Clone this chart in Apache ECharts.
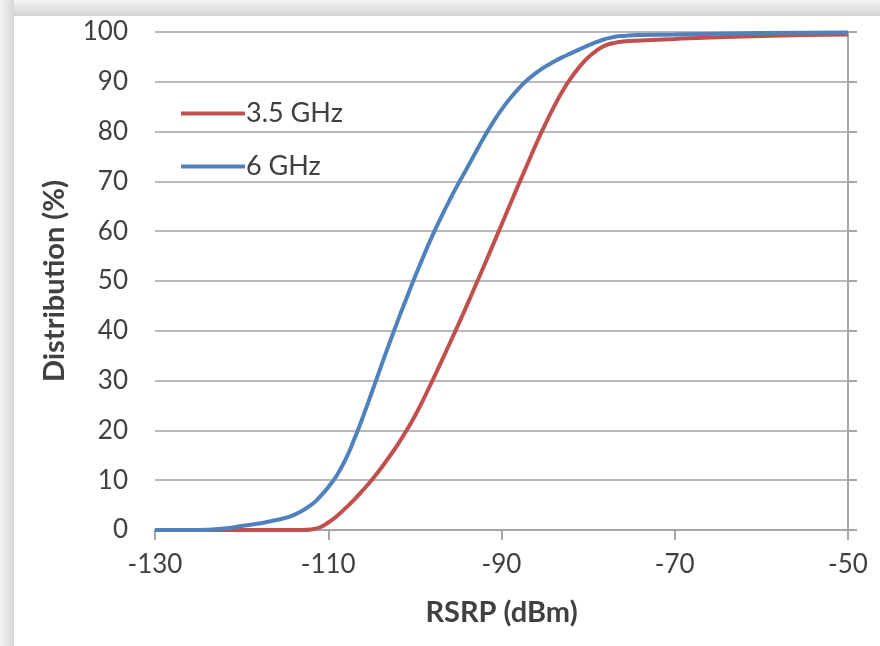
<!DOCTYPE html>
<html>
<head>
<meta charset="utf-8">
<script src="https://cdn.jsdelivr.net/npm/echarts@6/dist/echarts.min.js"></script>
<style>
html,body{margin:0;padding:0;background:#fff;}
#c{width:880px;height:646px;}
</style>
</head>
<body>
<div id="c"></div>
<script>
// Data
var seriesNames = ['3.5 GHz', '6 GHz'];
var xTicks = [-130, -110, -90, -70, -50];
var yTicks = [0, 10, 20, 30, 40, 50, 60, 70, 80, 90, 100];

var rsrp35 = [-130, -124, -118, -114, -113, -112, -111, -110, -109, -108, -107, -106, -105, -104, -103, -102, -101, -100, -99, -98, -97, -96, -95, -94, -93, -92, -91, -90, -89, -88, -87, -86, -85, -84, -83, -82, -81, -80, -79, -78, -77, -76, -74, -70, -66, -60, -55, -50];
var dist35 = [0, 0, 0, 0, 0, 0.1, 0.5, 1.5, 2.8, 4.4, 6.1, 8, 10, 12.2, 14.6, 17.1, 19.9, 22.9, 26.3, 29.9, 33.6, 37.4, 41.2, 45.1, 49.1, 53.1, 57.2, 61.3, 65.4, 69.5, 73.5, 77.5, 81.3, 84.8, 88, 90.7, 93, 94.9, 96.3, 97.3, 97.8, 98.1, 98.3, 98.6, 98.9, 99.2, 99.4, 99.5];

var rsrp6 = [-130, -125, -122, -120, -118, -116, -114, -112, -111, -110, -109, -108, -107, -106, -105, -104, -103, -102, -101, -100, -99, -98, -97, -96, -95, -94, -93, -92, -91, -90, -89, -88, -87, -86, -85, -84, -83, -82, -81, -80, -79, -78, -77, -76, -74, -70, -60, -50];
var dist6 = [0, 0, 0.3, 0.8, 1.3, 2, 3, 5, 6.6, 8.6, 11, 14.2, 18.2, 22.7, 27.5, 32.4, 37.2, 41.9, 46.4, 50.8, 55, 59, 62.7, 66.2, 69.5, 72.6, 75.8, 78.9, 81.8, 84.4, 86.7, 88.7, 90.4, 91.8, 93, 94, 94.9, 95.7, 96.5, 97.3, 98, 98.6, 99, 99.2, 99.4, 99.5, 99.8, 99.9];

function pairs(xs, ys) { return xs.map(function (x, i) { return [x, ys[i]]; }); }

var FONT = 'Lato';
var TXT = '#404040';
var chart = echarts.init(document.getElementById('c'), null, {renderer: 'canvas'});
chart.setOption({
  backgroundColor: '#ffffff',
  animation: false,
  graphic: [
    {type: 'rect', z: -10, shape: {x: 0, y: 0, width: 880, height: 16},
     style: {fill: new echarts.graphic.LinearGradient(0, 0, 0, 1, [{offset: 0, color: '#f3f3f3'}, {offset: 1, color: '#d4d4d4'}])}},
    {type: 'rect', z: -10, shape: {x: 0, y: 0, width: 14, height: 646},
     style: {fill: new echarts.graphic.LinearGradient(0, 0, 1, 0, [{offset: 0, color: '#f6f6f6'}, {offset: 1, color: '#d6d6d6'}])}}
  ],
  grid: {left: 155, right: 32, top: 32, bottom: 116, containLabel: false},
  legend: {
    orient: 'vertical', left: 176, top: 95, itemGap: 26,
    icon: 'rect', itemWidth: 64, itemHeight: 4,
    textStyle: {fontFamily: FONT, fontSize: 27, color: TXT, padding: [0, 0, 0, -4]},
    data: seriesNames
  },
  xAxis: {
    type: 'value', min: xTicks[0], max: xTicks[xTicks.length - 1], interval: 20,
    name: 'RSRP (dBm)', nameLocation: 'middle', nameGap: 68,
    nameTextStyle: {fontFamily: FONT, fontSize: 29, fontWeight: 'bold', color: TXT},
    axisLine: {show: true, lineStyle: {color: '#a6a6a6', width: 2}},
    axisTick: {show: true, inside: false, length: 10, lineStyle: {color: '#a6a6a6', width: 2}},
    axisLabel: {fontFamily: FONT, fontSize: 26, color: TXT, margin: 22},
    splitLine: {show: false}
  },
  yAxis: [
    {
      type: 'value', min: 0, max: 100, interval: 10, position: 'left',
      name: 'Distribution (%)', nameLocation: 'middle', nameGap: 86, nameRotate: 90,
      nameTextStyle: {fontFamily: FONT, fontSize: 29, fontWeight: 'bold', color: TXT},
      axisLine: {show: false}, axisTick: {show: false},
      axisLabel: {fontFamily: FONT, fontSize: 26, color: TXT, margin: 27},
      splitLine: {show: true, lineStyle: {color: '#b8b8b8', width: 2}}
    },
    {
      type: 'value', min: 0, max: 100, interval: 10, position: 'right',
      axisLine: {show: true, lineStyle: {color: '#a6a6a6', width: 2}},
      axisTick: {show: true, inside: false, length: 9, lineStyle: {color: '#a6a6a6', width: 2}},
      axisLabel: {show: false}, splitLine: {show: false}
    }
  ],
  series: [
    {name: seriesNames[0], type: 'line', smooth: 0.5, showSymbol: false, symbol: 'none',
     data: pairs(rsrp35, dist35), color: '#C0504D', lineStyle: {color: '#C0504D', width: 4}, z: 3},
    {name: seriesNames[1], type: 'line', smooth: 0.5, showSymbol: false, symbol: 'none',
     data: pairs(rsrp6, dist6), color: '#4F81BD', lineStyle: {color: '#4F81BD', width: 4}, z: 4}
  ]
});
</script>
</body>
</html>
